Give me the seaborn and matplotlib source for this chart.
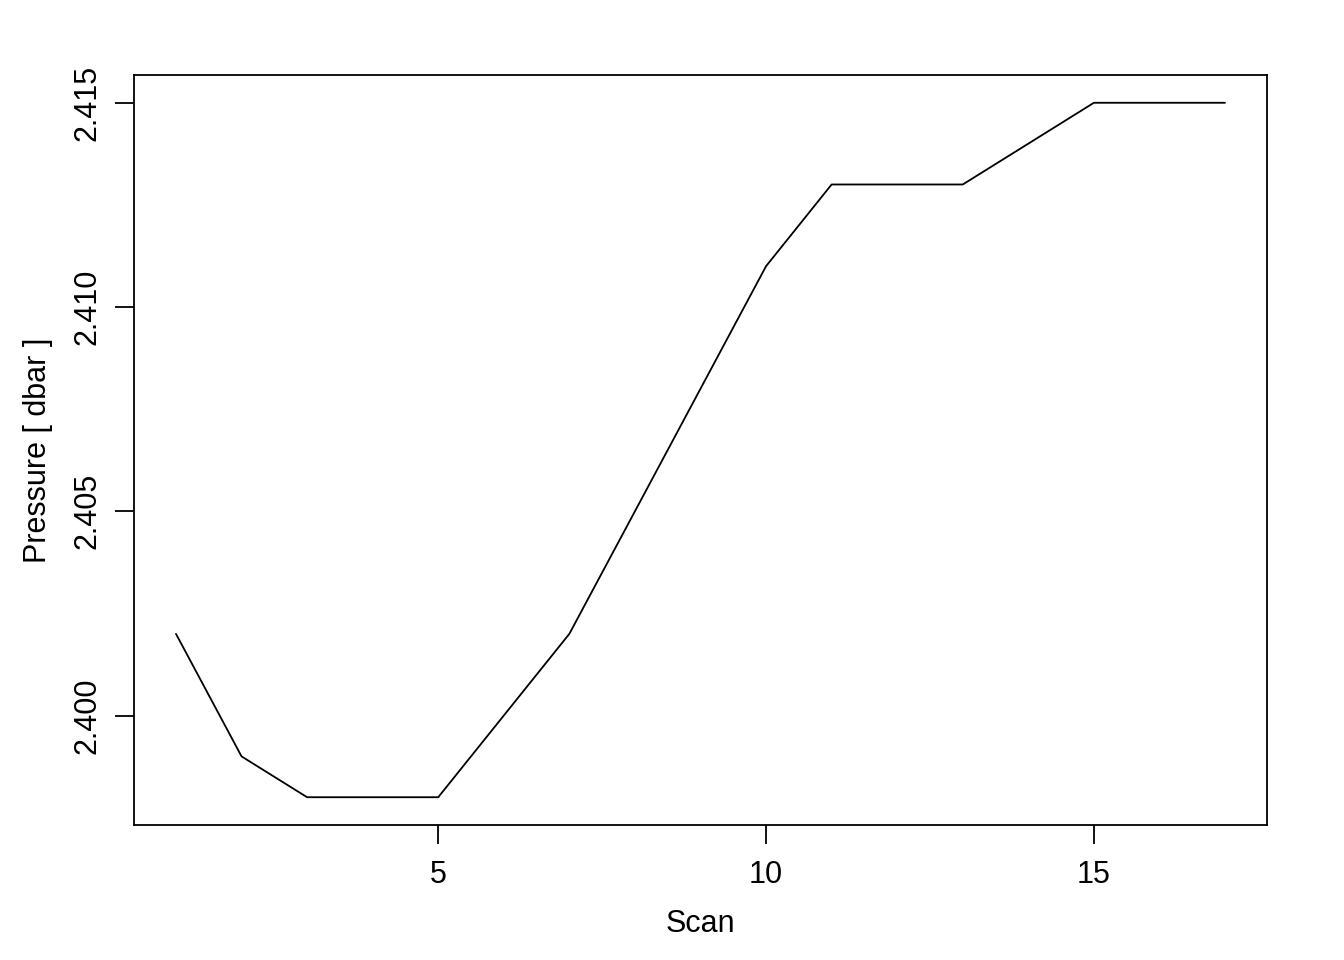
import matplotlib
matplotlib.use("Agg")
import matplotlib.pyplot as plt
import seaborn as sns
import pandas as pd

# scan number vs pressure
scan = list(range(1, 18))
pressure = [2.402, 2.399, 2.398, 2.398, 2.398, 2.400, 2.402, 2.405, 2.408,
            2.411, 2.413, 2.413, 2.413, 2.414, 2.415, 2.415, 2.415]
xticks = [5, 10, 15]
yticks = [2.400, 2.405, 2.410, 2.415]

df = pd.DataFrame({'scan': scan, 'pressure': pressure})

sns.set_style('white')
plt.rcParams['font.family'] = ['Liberation Sans', 'DejaVu Sans']
plt.rcParams['text.color'] = 'black'
plt.rcParams['axes.labelcolor'] = 'black'
plt.rcParams['xtick.color'] = 'black'
plt.rcParams['ytick.color'] = 'black'

fig = plt.figure(figsize=(13.44, 9.6), dpi=100)
ax = fig.add_axes([134 / 1344, 1 - 825 / 960, (1267 - 134) / 1344, (825 - 75) / 960])

sns.lineplot(data=df, x='scan', y='pressure', color='black', linewidth=1.3, ax=ax)

# R-style 4% padding
xr = max(scan) - min(scan)
yr = max(pressure) - min(pressure)
ax.set_xlim(min(scan) - 0.04 * xr, max(scan) + 0.04 * xr)
ax.set_ylim(min(pressure) - 0.04 * yr, max(pressure) + 0.04 * yr)

ax.set_xticks(xticks)
ax.set_xticklabels([str(t) for t in xticks])
ax.set_yticks(yticks)
ax.set_yticklabels(['%.3f' % t for t in yticks], rotation=90, va='center')

ax.tick_params(axis='both', direction='out', length=14, width=1.3,
               labelsize=22, left=True, bottom=True)
ax.tick_params(axis='x', pad=11)
ax.tick_params(axis='y', pad=9)
for s in ax.spines.values():
    s.set_color('black')
    s.set_linewidth(1.3)

ax.set_xlabel('Scan', fontsize=22, labelpad=14)
ax.set_ylabel('Pressure [ dbar ]', fontsize=22, labelpad=14)

fig.savefig('out.png', dpi=100)
